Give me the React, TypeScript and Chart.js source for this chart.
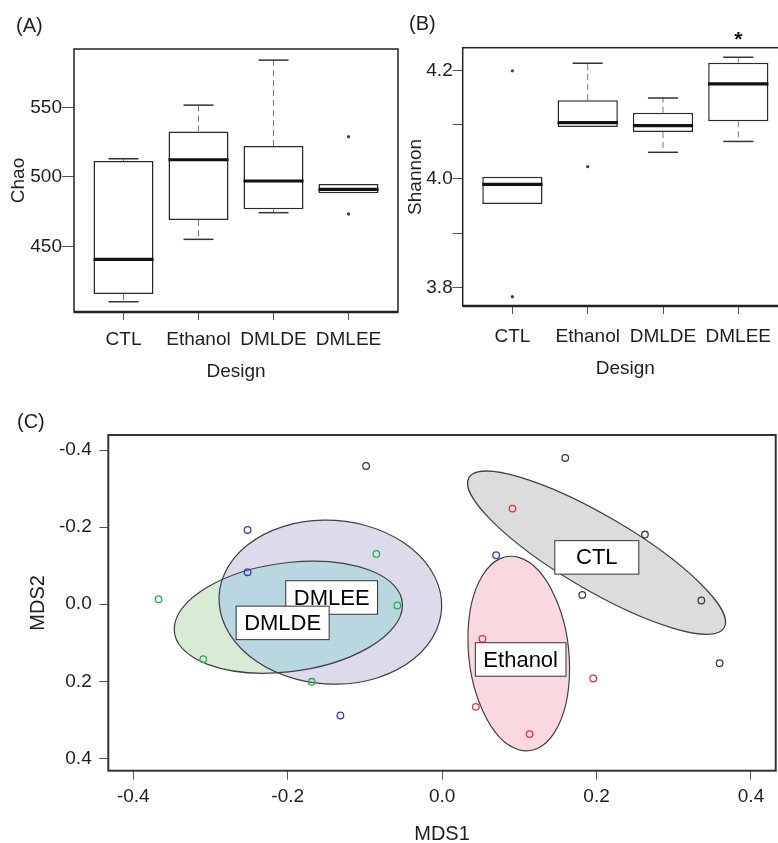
import React, { useEffect, useRef } from 'react';
import { Chart, registerables } from 'chart.js';

Chart.register(...registerables);

const FONT = "'Liberation Sans', Arial, Helvetica, sans-serif";
const TEXT = '#1e1e1e';

// ---------- Panels A & B : box plots ----------
const BOX_CATEGORIES = ['CTL', 'Ethanol', 'DMLDE', 'DMLEE'];
const BOX_POSITIONS = [1, 2, 3, 4];
const BOX_X_MIN = 0.34;
const BOX_X_MAX = 4.66;

// (A) Chao
const CHAO_LOWER = [410.1, 455.0, 474.2, 488.1];
const CHAO_Q1 = [415.7, 468.9, 476.6, 488.1];
const CHAO_MEDIAN = [440.6, 512.3, 497.0, 491.0];
const CHAO_Q3 = [511.4, 532.7, 522.2, 494.8];
const CHAO_UPPER = [513.0, 551.6, 584.0, 494.8];
const CHAO_OUTLIERS = [[], [], [], [528.8, 473.2]];
const CHAO_MIN = 402.7;
const CHAO_MAX = 592.0;
const CHAO_TICKS = [450, 500, 550];
const CHAO_TICK_LABELS = ['450', '500', '550'];

// (B) Shannon
const SHANNON_LOWER = [3.954, 4.0957, 4.049, 4.069];
const SHANNON_Q1 = [3.954, 4.0957, 4.0865, 4.106];
const SHANNON_MEDIAN = [3.99, 4.1036, 4.098, 4.175];
const SHANNON_Q3 = [4.0042, 4.145, 4.122, 4.214];
const SHANNON_UPPER = [4.0042, 4.213, 4.149, 4.224];
const SHANNON_OUTLIERS = [[4.199, 3.783], [4.0226], [], []];
const SHANNON_MIN = 3.766;
const SHANNON_MAX = 4.2416;
const SHANNON_TICKS = [3.8, 3.9, 4.0, 4.1, 4.2];
const SHANNON_TICK_LABELS = ['3.8', '', '4.0', '', '4.2'];
const SHANNON_MARKS = ['', '', '', '*'];

// ---------- Panel C : NMDS ----------
const GROUPS = ['CTL', 'Ethanol', 'DMLDE', 'DMLEE'];
const CTL_X = [-0.0985, 0.1594, 0.2626, 0.1815, 0.3357, 0.3594];
const CTL_Y = [-0.3587, -0.3794, -0.1807, -0.0241, -0.0096, 0.153];
const ETHANOL_X = [0.0911, 0.0522, 0.1957, 0.0436, 0.1132];
const ETHANOL_Y = [-0.248, 0.09, 0.1927, 0.2663, 0.337];
const DMLDE_X = [-0.3673, -0.3094, -0.0852, -0.169, -0.058];
const DMLDE_Y = [-0.013, 0.1426, -0.1305, 0.2014, 0.0034];
const DMLEE_X = [-0.252, -0.252, -0.1318, 0.07];
const DMLEE_Y = [-0.1927, -0.083, 0.2887, -0.127];
const GROUP_X = [CTL_X, ETHANOL_X, DMLDE_X, DMLEE_X];
const GROUP_Y = [CTL_Y, ETHANOL_Y, DMLDE_Y, DMLEE_Y];

// ellipse: centre + two conjugate semi-axis vectors (data units)
const ELLIPSE_CX = [0.2, 0.0992, -0.1992, -0.1448];
const ELLIPSE_CY = [-0.1336, 0.1281, 0.0337, -0.0052];
const ELLIPSE_UX = [0.1653, 0.0658, 0.1478, 0.1439];
const ELLIPSE_UY = [0.1948, 0.0389, -0.0311, -0.005];
const ELLIPSE_VX = [-0.0244, 0, 0, 0.0091];
const ELLIPSE_VY = [0.0827, 0.2495, 0.1419, 0.2127];

const LABEL_X = [0.2003, 0.1017, -0.2066, -0.1431];
const LABEL_Y = [-0.1214, 0.1434, 0.0485, -0.0174];

const MDS_X_MIN = -0.4324;
const MDS_X_MAX = 0.432;
const MDS_Y_MIN = -0.439;
const MDS_Y_MAX = 0.432;
const MDS_TICKS = [-0.4, -0.2, 0, 0.2, 0.4];
const MDS_TICK_LABELS = ['-0.4', '-0.2', '0.0', '0.2', '0.4'];

const POINT_COLORS = ['#3d3d3d', '#e4333a', '#23b04c', '#3b3bb4'];
const ELLIPSE_FILLS = ['#dcdcdc', '#f9d9df', '#d8ecd5', '#dcdaeb'];
const OVERLAP_FILL = '#b9d7e1';

// ---------- helpers ----------
function seg(ctx: CanvasRenderingContext2D, x1: number, y1: number, x2: number, y2: number) {
  ctx.beginPath();
  ctx.moveTo(x1, y1);
  ctx.lineTo(x2, y2);
  ctx.stroke();
}

type BoxSpec = {
  lower: number[]; q1: number[]; median: number[]; q3: number[]; upper: number[];
  outliers: number[][]; yMin: number; yMax: number; yTicks: number[]; yTickLabels: string[];
  yTitle: string; marks?: string[];
  top: number; right: number; yAxisWidth: number; xAxisHeight: number;
  yTickLength: number; yTitlePad: number; xTickPad: number; xTitlePad: number;
};

function boxConfig(s: BoxSpec): any {
  const plugin = {
    id: 'boxExtras',
    afterDatasetsDraw(chart: any) {
      const { ctx } = chart;
      const xs = chart.scales.x;
      const ys = chart.scales.y;
      const bars = chart.getDatasetMeta(0).data;
      ctx.save();
      BOX_POSITIONS.forEach((pos, i) => {
        const cx = xs.getPixelForValue(pos);
        const capHalf = xs.getPixelForValue(pos + 0.2) - cx;
        const yQ1 = ys.getPixelForValue(s.q1[i]);
        const yQ3 = ys.getPixelForValue(s.q3[i]);
        const yLo = ys.getPixelForValue(s.lower[i]);
        const yUp = ys.getPixelForValue(s.upper[i]);
        const yMed = ys.getPixelForValue(s.median[i]);
        ctx.lineWidth = 1;
        ctx.strokeStyle = '#777';
        ctx.setLineDash([6, 4]);
        if (s.upper[i] > s.q3[i]) seg(ctx, cx, yQ3, cx, yUp);
        if (s.lower[i] < s.q1[i]) seg(ctx, cx, yQ1, cx, yLo);
        ctx.setLineDash([]);
        ctx.lineWidth = 1.5;
        ctx.strokeStyle = '#333';
        if (s.upper[i] > s.q3[i]) seg(ctx, cx - capHalf, yUp, cx + capHalf, yUp);
        if (s.lower[i] < s.q1[i]) seg(ctx, cx - capHalf, yLo, cx + capHalf, yLo);
        const bar = bars[i];
        const half = bar.width / 2;
        ctx.lineWidth = 3.2;
        ctx.strokeStyle = '#111';
        seg(ctx, bar.x - half, yMed, bar.x + half, yMed);
      });
      ctx.restore();
    },
    afterDraw(chart: any) {
      const { ctx, chartArea: a } = chart;
      ctx.save();
      ctx.strokeStyle = '#222';
      ctx.lineWidth = 1.5;
      ctx.strokeRect(a.left, a.top, a.right - a.left, a.bottom - a.top);
      ctx.lineWidth = 2.5;
      seg(ctx, a.left, a.bottom, a.right, a.bottom);
      if (s.marks) {
        ctx.fillStyle = '#111';
        ctx.font = `bold 21px ${FONT}`;
        ctx.textAlign = 'center';
        ctx.textBaseline = 'middle';
        s.marks.forEach((m, i) => {
          if (m) ctx.fillText(m, chart.scales.x.getPixelForValue(BOX_POSITIONS[i]), a.top - 7);
        });
      }
      ctx.restore();
    },
  };

  const outlierData: { x: number; y: number }[] = [];
  BOX_POSITIONS.forEach((p, i) => s.outliers[i].forEach((v) => outlierData.push({ x: p, y: v })));

  return {
    type: 'bar',
    data: {
      datasets: [
        {
          type: 'bar',
          data: BOX_POSITIONS.map((p, i) => ({ x: p, y: [s.q1[i], s.q3[i]] })),
          backgroundColor: '#ffffff',
          borderColor: '#2a2a2a',
          borderWidth: 1.5,
          borderSkipped: false,
          categoryPercentage: 1,
          barPercentage: 0.8,
        },
        {
          type: 'scatter',
          data: outlierData,
          pointRadius: 1.7,
          pointBackgroundColor: '#444',
          pointBorderWidth: 0,
        },
      ],
    },
    options: {
      responsive: false,
      animation: false,
      events: [],
      layout: { padding: { top: s.top, right: s.right, left: 0, bottom: 0 } },
      plugins: { legend: { display: false }, tooltip: { enabled: false } },
      scales: {
        x: {
          type: 'linear',
          min: BOX_X_MIN,
          max: BOX_X_MAX,
          offset: false,
          afterBuildTicks: (sc: any) => { sc.ticks = BOX_POSITIONS.map((v) => ({ value: v })); },
          afterFit: (sc: any) => { sc.height = s.xAxisHeight; },
          ticks: {
            autoSkip: false,
            maxRotation: 0,
            padding: s.xTickPad,
            color: TEXT,
            font: { family: FONT, size: 19 },
            callback: (_v: any, idx: number) => BOX_CATEGORIES[idx],
          },
          grid: { offset: false, drawOnChartArea: false, drawTicks: true, tickLength: 8, color: '#555' },
          border: { display: false },
          title: { display: true, text: 'Design', color: TEXT, font: { family: FONT, size: 19 }, padding: { top: 0, bottom: s.xTitlePad } },
        },
        y: {
          type: 'linear',
          min: s.yMin,
          max: s.yMax,
          beginAtZero: false,
          afterBuildTicks: (sc: any) => { sc.ticks = s.yTicks.map((v) => ({ value: v })); },
          afterFit: (sc: any) => { sc.width = s.yAxisWidth; },
          ticks: {
            autoSkip: false,
            padding: 0,
            color: TEXT,
            font: { family: FONT, size: 19 },
            callback: (_v: any, idx: number) => s.yTickLabels[idx],
          },
          grid: { drawOnChartArea: false, drawTicks: true, tickLength: s.yTickLength, color: '#555' },
          border: { display: false },
          title: { display: true, text: s.yTitle, color: TEXT, font: { family: FONT, size: 19 }, padding: { top: s.yTitlePad, bottom: 0 } },
        },
      },
    },
    plugins: [plugin],
  };
}

function chaoConfig() {
  return boxConfig({
    lower: CHAO_LOWER, q1: CHAO_Q1, median: CHAO_MEDIAN, q3: CHAO_Q3, upper: CHAO_UPPER,
    outliers: CHAO_OUTLIERS, yMin: CHAO_MIN, yMax: CHAO_MAX, yTicks: CHAO_TICKS, yTickLabels: CHAO_TICK_LABELS,
    yTitle: 'Chao', top: 49, right: 2, yAxisWidth: 74, xAxisHeight: 78, yTickLength: 12,
    yTitlePad: 7, xTickPad: 8, xTitlePad: 7,
  });
}

function shannonConfig() {
  return boxConfig({
    lower: SHANNON_LOWER, q1: SHANNON_Q1, median: SHANNON_MEDIAN, q3: SHANNON_Q3, upper: SHANNON_UPPER,
    outliers: SHANNON_OUTLIERS, yMin: SHANNON_MIN, yMax: SHANNON_MAX, yTicks: SHANNON_TICKS,
    yTickLabels: SHANNON_TICK_LABELS, yTitle: 'Shannon', marks: SHANNON_MARKS,
    top: 47.7, right: 3.3, yAxisWidth: 72.7, xAxisHeight: 84, yTickLength: 10,
    yTitlePad: 14.6, xTickPad: 11, xTitlePad: 10,
  });
}

function nmdsConfig(): any {
  const DMLDE = 2;
  const DMLEE = 3;
  const plugin = {
    id: 'ordi',
    beforeDatasetsDraw(chart: any) {
      const { ctx, chartArea: a } = chart;
      const xs = chart.scales.x;
      const ys = chart.scales.y;
      const trace = (i: number) => {
        const cx = xs.getPixelForValue(ELLIPSE_CX[i]);
        const cy = ys.getPixelForValue(ELLIPSE_CY[i]);
        const ux = xs.getPixelForValue(ELLIPSE_CX[i] + ELLIPSE_UX[i]) - cx;
        const uy = ys.getPixelForValue(ELLIPSE_CY[i] + ELLIPSE_UY[i]) - cy;
        const vx = xs.getPixelForValue(ELLIPSE_CX[i] + ELLIPSE_VX[i]) - cx;
        const vy = ys.getPixelForValue(ELLIPSE_CY[i] + ELLIPSE_VY[i]) - cy;
        ctx.beginPath();
        ctx.save();
        ctx.transform(ux, uy, vx, vy, cx, cy);
        ctx.arc(0, 0, 1, 0, Math.PI * 2);
        ctx.restore();
        ctx.closePath();
      };
      ctx.save();
      ctx.beginPath();
      ctx.rect(a.left, a.top, a.right - a.left, a.bottom - a.top);
      ctx.clip();
      GROUPS.forEach((_g, i) => {
        trace(i);
        ctx.fillStyle = ELLIPSE_FILLS[i];
        ctx.fill();
      });
      ctx.save();
      trace(DMLEE);
      ctx.clip();
      trace(DMLDE);
      ctx.fillStyle = OVERLAP_FILL;
      ctx.fill();
      ctx.restore();
      ctx.lineWidth = 1.2;
      ctx.strokeStyle = '#404040';
      GROUPS.forEach((_g, i) => {
        trace(i);
        ctx.stroke();
      });
      ctx.restore();
    },
    afterDatasetsDraw(chart: any) {
      const { ctx } = chart;
      const xs = chart.scales.x;
      const ys = chart.scales.y;
      ctx.save();
      ctx.font = `22px ${FONT}`;
      ctx.textAlign = 'center';
      ctx.textBaseline = 'middle';
      [0, 1, 3, 2].forEach((i) => {
        const px = xs.getPixelForValue(LABEL_X[i]);
        const py = ys.getPixelForValue(LABEL_Y[i]);
        const w = Math.max(ctx.measureText(GROUPS[i]).width + 16, 84);
        const h = 33.5;
        ctx.fillStyle = '#ffffff';
        ctx.fillRect(px - w / 2, py - h / 2, w, h);
        ctx.strokeStyle = '#333';
        ctx.lineWidth = 1;
        ctx.strokeRect(px - w / 2, py - h / 2, w, h);
        ctx.fillStyle = '#000';
        ctx.fillText(GROUPS[i], px, py + 1);
      });
      ctx.restore();
    },
    afterDraw(chart: any) {
      const { ctx, chartArea: a } = chart;
      ctx.save();
      ctx.strokeStyle = '#333';
      ctx.lineWidth = 2;
      ctx.strokeRect(a.left, a.top, a.right - a.left, a.bottom - a.top);
      ctx.restore();
    },
  };

  return {
    type: 'scatter',
    data: {
      datasets: GROUPS.map((g, i) => ({
        label: g,
        data: GROUP_X[i].map((x, j) => ({ x, y: GROUP_Y[i][j] })),
        pointRadius: 3.3,
        pointBorderWidth: 1.3,
        pointBorderColor: POINT_COLORS[i],
        pointBackgroundColor: 'rgba(0,0,0,0)',
        showLine: false,
      })),
    },
    options: {
      responsive: false,
      animation: false,
      events: [],
      layout: { padding: { top: 45, right: 2, left: 0, bottom: 0 } },
      plugins: { legend: { display: false }, tooltip: { enabled: false } },
      scales: {
        x: {
          type: 'linear',
          min: MDS_X_MIN,
          max: MDS_X_MAX,
          afterBuildTicks: (sc: any) => { sc.ticks = MDS_TICKS.map((v) => ({ value: v })); },
          afterFit: (sc: any) => { sc.height = 89.3; },
          ticks: {
            autoSkip: false,
            maxRotation: 0,
            padding: 6,
            color: TEXT,
            font: { family: FONT, size: 19 },
            callback: (_v: any, idx: number) => MDS_TICK_LABELS[idx],
          },
          grid: { drawOnChartArea: false, drawTicks: true, tickLength: 9, color: '#555' },
          border: { display: false },
          title: { display: true, text: 'MDS1', color: TEXT, font: { family: FONT, size: 20 }, padding: { top: 0, bottom: 14 } },
        },
        y: {
          type: 'linear',
          reverse: true,
          min: MDS_Y_MIN,
          max: MDS_Y_MAX,
          afterBuildTicks: (sc: any) => { sc.ticks = MDS_TICKS.map((v) => ({ value: v })); },
          afterFit: (sc: any) => { sc.width = 108.3; },
          ticks: {
            autoSkip: false,
            padding: 7.6,
            color: TEXT,
            font: { family: FONT, size: 19 },
            callback: (_v: any, idx: number) => MDS_TICK_LABELS[idx],
          },
          grid: { drawOnChartArea: false, drawTicks: true, tickLength: 9, color: '#555' },
          border: { display: false },
          title: { display: true, text: 'MDS2', color: TEXT, font: { family: FONT, size: 20 }, padding: { top: 26, bottom: 0 } },
        },
      },
    },
    plugins: [plugin],
  };
}

function ChartCanvas({ make, left, top, width, height }: { make: () => any; left: number; top: number; width: number; height: number }) {
  const ref = useRef<HTMLCanvasElement>(null);
  useEffect(() => {
    const chart = new Chart(ref.current as HTMLCanvasElement, make());
    return () => chart.destroy();
  }, []);
  return (
    <canvas
      ref={ref}
      width={width}
      height={height}
      style={{ position: 'absolute', left, top, width, height, display: 'block' }}
    />
  );
}

const panelLabel = (text: string, left: number, top: number) => (
  <div
    style={{
      position: 'absolute',
      left,
      top,
      fontFamily: FONT,
      fontSize: 20,
      lineHeight: '20px',
      color: TEXT,
      whiteSpace: 'nowrap',
    }}
  >
    {text}
  </div>
);

export default function App() {
  return (
    <div
      style={{
        position: 'absolute',
        left: 0,
        top: 0,
        width: 778,
        height: 843,
        overflow: 'hidden',
        background: '#ffffff',
      }}
    >
      <ChartCanvas make={chaoConfig} left={0} top={0} width={402} height={390} />
      <ChartCanvas make={shannonConfig} left={390} top={0} width={402} height={390} />
      <ChartCanvas make={nmdsConfig} left={0} top={390} width={781} height={470} />
      {panelLabel('(A)', 16, 15)}
      {panelLabel('(B)', 409, 13)}
      {panelLabel('(C)', 17, 411)}
    </div>
  );
}
